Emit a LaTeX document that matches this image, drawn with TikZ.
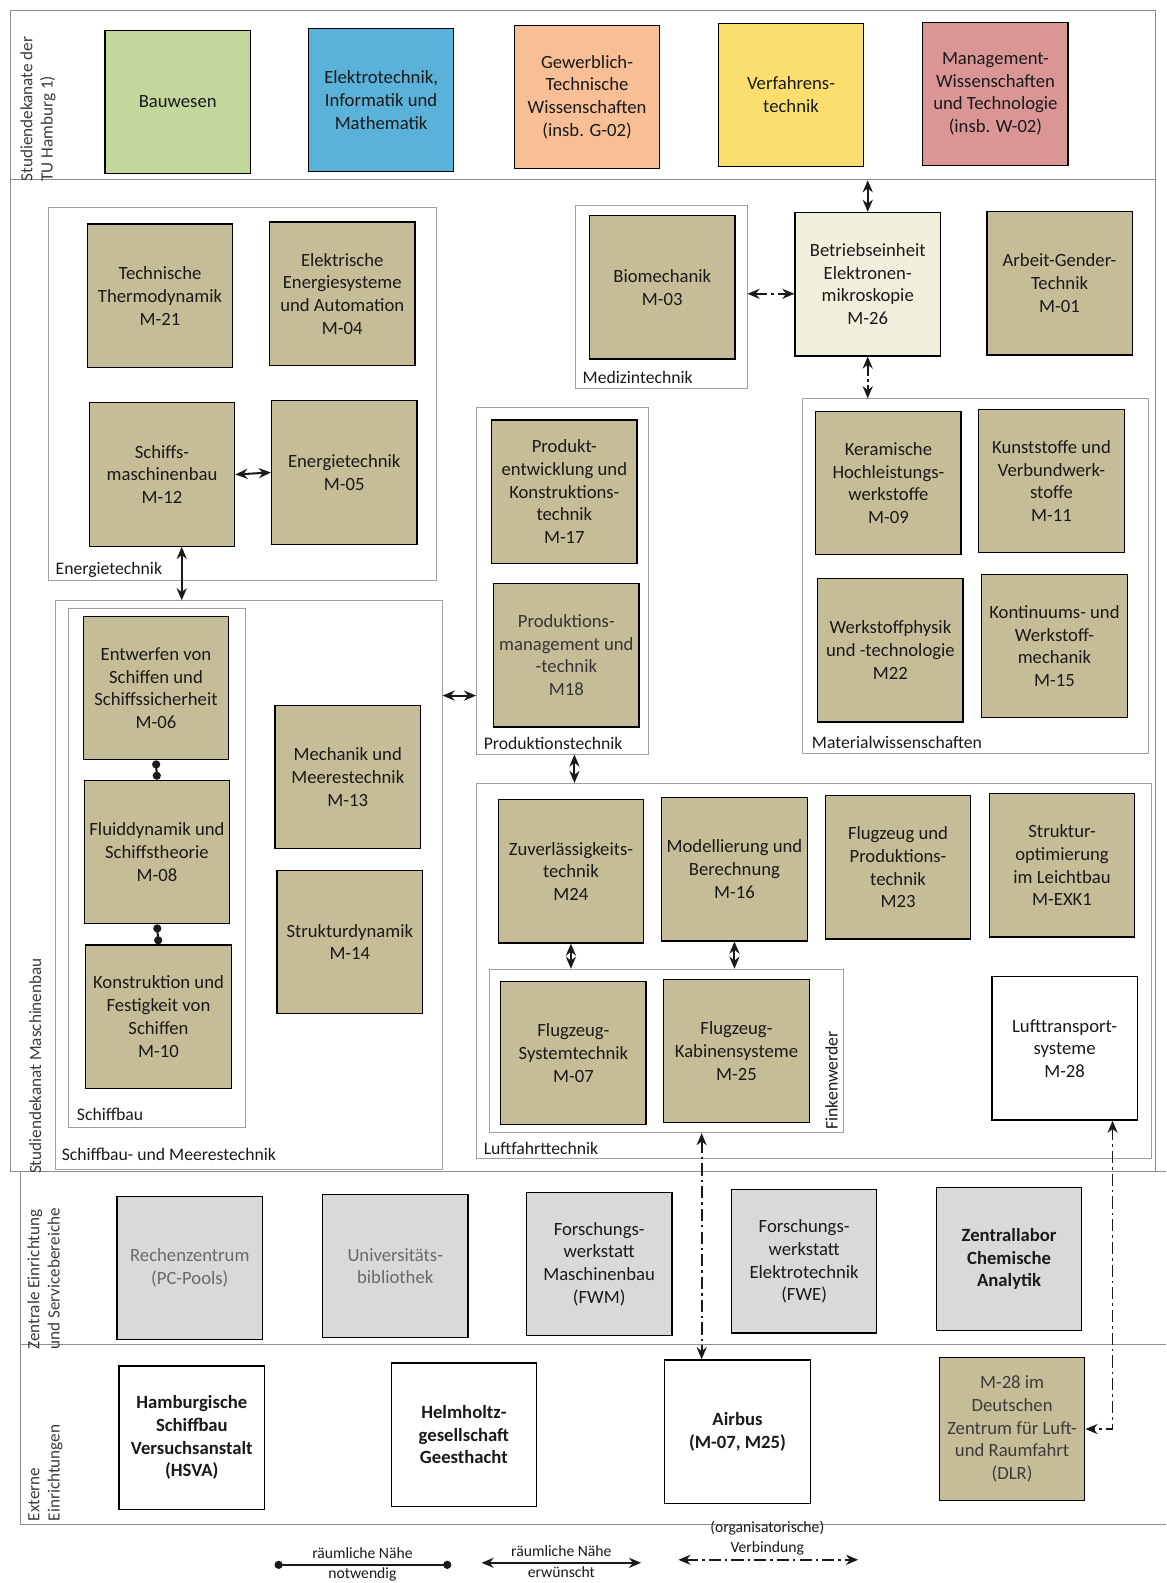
\documentclass[tikz,border=0pt]{standalone}
\usepackage{fontspec}
\setmainfont{Carlito}
\usetikzlibrary{arrows.meta}

\definecolor{tanbox}{HTML}{C4BD97}
\definecolor{creambox}{HTML}{F2F0DC}
\definecolor{greybox}{HTML}{D9D9D9}
\definecolor{bauc}{HTML}{C3D69B}
\definecolor{etic}{HTML}{5AB2D9}
\definecolor{gwc}{HTML}{F8BE96}
\definecolor{vtc}{HTML}{FADF6E}
\definecolor{mwc}{HTML}{D99694}
\definecolor{txt}{HTML}{1A1A1A}
\definecolor{fadetxt}{HTML}{6A6A6A}
\definecolor{frameline}{HTML}{A0A0A0}
\definecolor{bandline}{HTML}{8C8C8C}

\newcommand\modfont{\fontsize{18.5}{22.5}\selectfont}
\newcommand\grpfont{\fontsize{17.5}{21}\selectfont}
\newcommand\sidefont{\fontsize{17}{20}\selectfont}
\newcommand\keyfont{\fontsize{15.5}{18}\selectfont}

\tikzset{
  box/.style={draw=black, line width=1.3pt, minimum width=144pt, minimum height=142pt,
    inner sep=1pt, align=center, font=\modfont, text=txt},
  mod/.style={box, fill=tanbox},
  grp/.style={draw=frameline, line width=0.8pt, inner sep=0pt},
  band/.style={draw=bandline, line width=1pt, inner sep=0pt},
  glabel/.style={font=\grpfont, text=txt, inner sep=0pt, anchor=south west},
  side/.style={font=\sidefont, text=txt!85, inner sep=0pt, rotate=90, align=left},
  keytext/.style={font=\keyfont, text=txt, inner sep=0pt},
  needlink/.style={line width=2pt, draw=txt, {Circle[length=8pt]}-{Circle[length=8pt]}},
  wishlink/.style={line width=2pt, draw=txt, {Stealth[length=12pt,width=10pt]}-{Stealth[length=12pt,width=10pt]}},
  orglink/.style={line width=1.7pt, draw=txt, dash pattern=on 12pt off 4pt on 2.5pt off 4pt,
    {Stealth[length=12pt,width=10pt]}-{Stealth[length=12pt,width=10pt]}},
}

\begin{document}
\begin{tikzpicture}[x=1pt,y=-1pt]
\fill[white] (0,0) rectangle (1155,1568);
\useasboundingbox (0,0) rectangle (1155,1568);

% ---------- bands ----------
\node[band, minimum width=1135pt, minimum height=168pt] (dekanate) at (577.5,94) {};
\node[band, minimum width=1135pt, minimum height=982pt] (masch) at (577.5,669) {};
\draw[bandline, line width=1pt] (20,1160) -- (1155,1160);
\draw[bandline, line width=1pt] (20,1332) -- (1155,1332);
\draw[bandline, line width=1pt] (20,1510) -- (1155,1510);
\draw[bandline, line width=1pt] (20,1160) -- (20,1510);

\node[side, anchor=north west] (sdlabel) at (20,180) {Studiendekanate der\\TU Hamburg 1)};
\node[side, anchor=west] (mblabel) at (35,1163) {Studiendekanat Maschinenbau};
\node[side, anchor=north west] (zelabel) at (27,1337) {Zentrale Einrichtung\\und Servicebereiche};
\node[side, anchor=north west] (exlabel) at (28,1507) {Externe\\Einrichtungen};

% ---------- deans' offices ----------
\node[box, fill=bauc] (bau) at (176,101) {Bauwesen};
\node[box, fill=etic] (eti) at (377.5,99) {Elektrotechnik,\\Informatik und\\Mathematik};
\node[box, fill=gwc] (gw) at (581.5,96) {Gewerblich-\\Technische\\Wissenschaften\\(insb. G-02)};
\node[box, fill=vtc] (vt) at (783.5,94) {Verfahrens-\\technik};
\node[box, fill=mwc] (mw) at (986,93) {Management-\\Wissenschaften\\und Technologie\\(insb. W-02)};

% ---------- group frames ----------
\node[grp, minimum width=384pt, minimum height=370pt] (energie) at (240,390) {};
\node[grp, minimum width=383pt, minimum height=563pt] (schiffmeer) at (246.5,876.5) {};
\node[grp, minimum width=175pt, minimum height=514pt] (schiffbau) at (155.5,860) {};
\node[grp, minimum width=170pt, minimum height=182pt] (medizin) at (655,294) {};
\node[grp, minimum width=170pt, minimum height=343pt] (prod) at (557,575.5) {};
\node[grp, minimum width=343pt, minimum height=351pt] (material) at (966.5,570.5) {};
\node[grp, minimum width=668pt, minimum height=371pt] (luft) at (806,961.5) {};
\node[grp, minimum width=350pt, minimum height=162pt] (finken) at (660,1041) {};

\node[glabel] (lenergie) at (55,572) {Energietechnik};
\node[glabel] (lschiffmeer) at (61,1150) {Schiffbau- und Meerestechnik};
\node[glabel] (lschiffbau) at (76,1110) {Schiffbau};
\node[glabel] (lmedizin) at (577,380) {Medizintechnik};
\node[glabel] (lprod) at (479,743) {Produktionstechnik};
\node[glabel] (lmaterial) at (804,742) {Materialwissenschaften};
\node[glabel] (lluft) at (479,1144) {Luftfahrttechnik};
\node[glabel, rotate=90, anchor=south west] (lfinken) at (830,1119) {Finkenwerder};

% ---------- Energietechnik ----------
\node[mod] (m21) at (158.5,293) {Technische\\Thermodynamik\\M-21};
\node[mod] (m04) at (339,291) {Elektrische\\Energiesysteme\\und Automation\\M-04};
\node[mod] (m12) at (160.5,470) {Schiffs-\\maschinenbau\\M-12};
\node[mod] (m05) at (341,468) {Energietechnik\\M-05};

% ---------- Schiffbau und Meerestechnik ----------
\node[mod] (m06) at (154.5,681.5) {Entwerfen von\\Schiffen und\\Schiffssicherheit\\M-06};
\node[mod] (m08) at (155.5,844) {Fluiddynamik und\\Schiffstheorie\\M-08};
\node[mod] (m10) at (157,1007) {Konstruktion und\\Festigkeit von\\Schiffen\\M-10};
\node[mod] (m13) at (344.5,769.5) {Mechanik und\\Meerestechnik\\M-13};
\node[mod] (m14) at (346.5,933) {Strukturdynamik\\M-14};

% ---------- Medizintechnik, M-26, M-01 ----------
\node[mod] (m03) at (656,284.5) {Biomechanik\\M-03};
\node[box, fill=creambox] (m26) at (859.5,281.5) {Betriebseinheit\\Elektronen-\\mikroskopie\\M-26};
\node[mod] (m01) at (1049.5,280.5) {Arbeit-Gender-\\Technik\\M-01};

% ---------- Produktionstechnik ----------
\node[mod] (m17) at (559,487) {Produkt-\\entwicklung und\\Konstruktions-\\technik\\M-17};
\node[mod, text=txt!88] (m18) at (561,649) {Produktions-\\management und\\-technik\\M18};

% ---------- Materialwissenschaften ----------
\node[mod] (m09) at (880,478.5) {Keramische\\Hochleistungs-\\werkstoffe\\M-09};
\node[mod] (m11) at (1041.5,476.5) {Kunststoffe und\\Verbundwerk-\\stoffe\\M-11};
\node[mod] (m22) at (882,644) {Werkstoffphysik\\und -technologie\\M22};
\node[mod] (m15) at (1044.5,640) {Kontinuums- und\\Werkstoff-\\mechanik\\M-15};

% ---------- Luftfahrttechnik ----------
\node[mod] (m24) at (565.5,863) {Zuverlässigkeits-\\technik\\M24};
\node[mod] (m16) at (727.5,861) {Modellierung und\\Berechnung\\M-16};
\node[mod] (m23) at (889.5,859) {Flugzeug und\\Produktions-\\technik\\M23};
\node[mod] (mexk) at (1052,857) {Struktur-\\optimierung\\im Leichtbau\\M-EXK1};
\node[mod] (m07) at (568,1043) {Flugzeug-\\Systemtechnik\\M-07};
\node[mod] (m25) at (729.5,1041) {Flugzeug-\\Kabinensysteme\\M-25};
\node[box, fill=white] (m28) at (1054.5,1038.5) {Lufttransport-\\systeme\\M-28};

% ---------- central facilities ----------
\node[box, fill=greybox, text=fadetxt] (rz) at (188,1256) {Rechenzentrum\\(PC-Pools)};
\node[box, fill=greybox, text=fadetxt] (ub) at (391.5,1254) {Universitäts-\\bibliothek};
\node[box, fill=greybox] (fwm) at (593.5,1252) {Forschungs-\\werkstatt\\Maschinenbau\\(FWM)};
\node[box, fill=greybox] (fwe) at (796.5,1249.5) {Forschungs-\\werkstatt\\Elektrotechnik\\(FWE)};
\node[box, fill=greybox, font=\modfont\bfseries] (zl) at (999.5,1247) {Zentrallabor\\Chemische\\Analytik};

% ---------- external institutions ----------
\node[box, fill=white, font=\modfont\bfseries] (hsva) at (190,1424) {Hamburgische\\Schiffbau\\Versuchsanstalt\\(HSVA)};
\node[box, fill=white, font=\modfont\bfseries] (hgg) at (459.5,1421) {Helmholtz-\\gesellschaft\\Geesthacht};
\node[box, fill=white, font=\modfont\bfseries] (airbus) at (730.5,1418) {Airbus\\(M-07, M25)};
\node[box, fill=tanbox, text=txt!85] (dlr) at (1002.5,1415.5) {M-28 im\\Deutschen\\Zentrum für Luft-\\und Raumfahrt\\(DLR)};

% ---------- connectors ----------
\coordinate (xa) at (180,0);
\coordinate (ya) at (0,689);
\coordinate (yb) at (0,291);
\coordinate (xc) at (569,0);
\coordinate (xd) at (695,0);
\coordinate (xe) at (1102,0);

\draw[wishlink] (m12.east) -- (m05.west);
\draw[wishlink] (m12.south -| xa) -- (schiffmeer.north -| xa);
\draw[wishlink] (schiffmeer.east |- ya) -- (prod.west |- ya);
\draw[orglink] (medizin.east |- yb) -- (m26.west |- yb);
\draw[wishlink] (m26.north) -- (m26.north |- dekanate.south);
\draw[orglink, dash pattern=on 12pt off 3pt on 3pt off 3pt] (m26.south) -- (m26.south |- material.north);
\draw[wishlink] (prod.south -| xc) -- (luft.north -| xc);
\draw[wishlink] (m24.south) -- (m24.south |- finken.north);
\draw[wishlink] (m16.south) -- (m16.south |- finken.north);

\draw[needlink] (m06.south) -- (m08.north);
\draw[needlink] (m08.south) -- (m10.north);

\draw[orglink] (finken.south -| xd) -- (airbus.north -| xd);
\draw[orglink] (m28.south -| xe) -- (xe |- dlr.east) -- (dlr.east);

% ---------- key ----------
\coordinate (k1a) at (272,1550);
\coordinate (k1b) at (447,1550);
\coordinate (k2a) at (477,1548);
\coordinate (k2b) at (635,1548);
\coordinate (k3a) at (672,1545);
\coordinate (k3b) at (850,1545);
\draw[needlink] (k1a) -- (k1b);
\draw[wishlink] (k2a) -- (k2b);
\draw[orglink] (k3a) -- (k3b);
\node[keytext] (k1t) at (359,1538) {räumliche Nähe};
\node[keytext] (k1u) at (359,1559) {notwendig};
\node[keytext] (k2t) at (556,1536) {räumliche Nähe};
\node[keytext] (k2u) at (556,1557) {erwünscht};
\node[keytext] (k3t) at (760,1514) {(organisatorische)};
\node[keytext] (k3u) at (760,1534) {Verbindung};
\end{tikzpicture}
\end{document}
